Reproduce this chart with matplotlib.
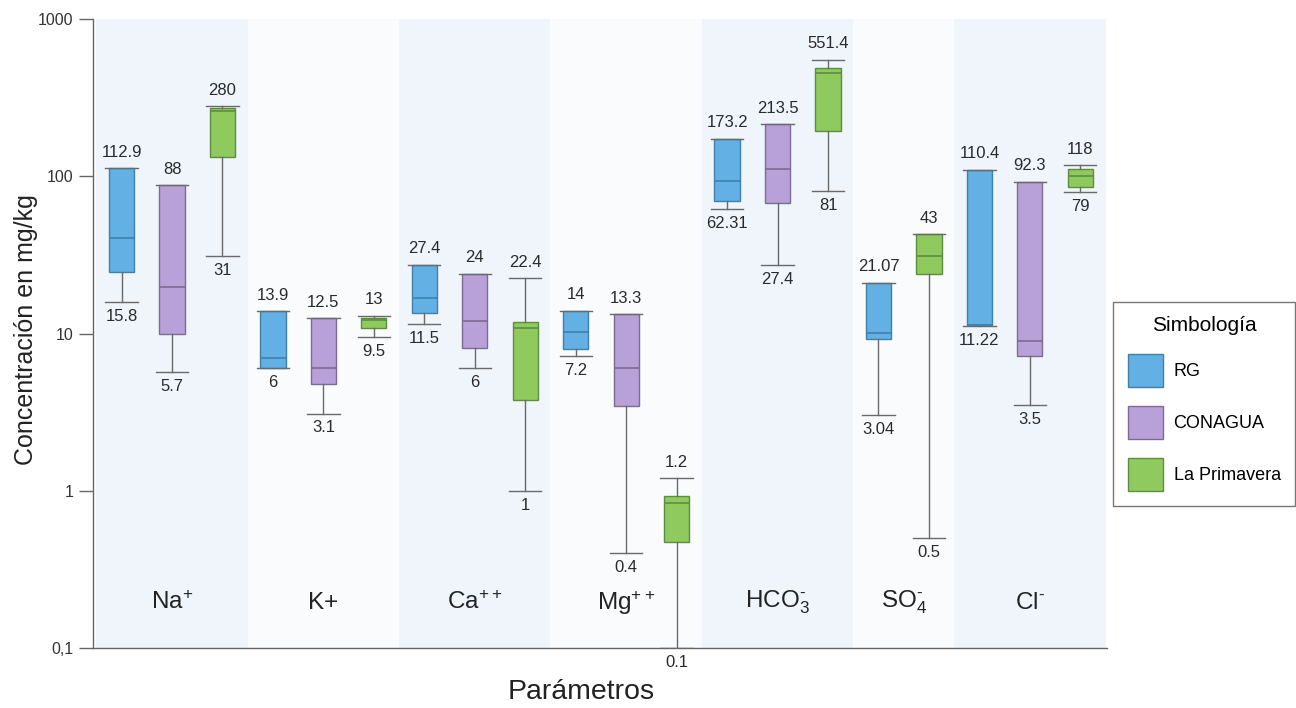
import numpy as np
import matplotlib
matplotlib.use("Agg")
import matplotlib.pyplot as plt
from matplotlib.patches import Patch
from matplotlib.ticker import FixedLocator, NullLocator

plt.rcParams['font.family'] = ['Liberation Sans', 'DejaVu Sans']
plt.rcParams['mathtext.fontset'] = 'custom'
plt.rcParams['mathtext.rm'] = 'Liberation Sans'
plt.rcParams['mathtext.default'] = 'regular'

# parametros (iones) en el eje x
params = ['Na$^{+}$', 'K+', 'Ca$^{++}$', 'Mg$^{++}$',
          r'HCO$_3^{\text{-}}$', r'SO$_4^{\text{-}}$', r'Cl$^{\text{-}}$']
sources = ['RG', 'CONAGUA', 'La Primavera']

# RG
rg_hi = [112.9, 13.9, 27.4, 14, 173.2, 21.07, 110.4]
rg_q3 = [112.9, 13.9, 27.4, 14, 173.2, 21.07, 110.4]
rg_med = [40.8, 7.0, 16.9, 10.3, 92.9, 10.1, 11.4]
rg_q1 = [24.8, 6.07, 13.6, 8.0, 69.3, 9.2, 11.3]
rg_lo = [15.8, 6, 11.5, 7.2, 62.31, 3.04, 11.22]

# CONAGUA (sin datos de SO4)
con_hi = [88, 12.5, 24, 13.3, 213.5, None, 92.3]
con_q3 = [88, 12.5, 24, 13.3, 213.5, None, 92.3]
con_med = [19.9, 6.07, 12.1, 6.07, 111, None, 8.9]
con_q1 = [10.0, 4.8, 8.1, 3.48, 67.7, None, 7.24]
con_lo = [5.7, 3.1, 6, 0.4, 27.4, None, 3.5]

# La Primavera
lp_hi = [280, 13, 22.4, 1.2, 551.4, 43, 118]
lp_q3 = [270, 12.6, 11.9, 0.92, 487, 43, 112]
lp_med = [262, 12.2, 10.9, 0.84, 453, 30.9, 101]
lp_q1 = [132, 10.9, 3.8, 0.47, 193, 23.8, 86]
lp_lo = [31, 9.5, 1, 0.1, 81, 0.5, 79]

series = {
    'RG': (rg_hi, rg_q3, rg_med, rg_q1, rg_lo),
    'CONAGUA': (con_hi, con_q3, con_med, con_q1, con_lo),
    'La Primavera': (lp_hi, lp_q3, lp_med, lp_q1, lp_lo),
}
fills = {'RG': '#62b0e4', 'CONAGUA': '#b8a0d8', 'La Primavera': '#8fca5e'}
edges = {'RG': '#3f80ad', 'CONAGUA': '#7c6c92', 'La Primavera': '#5e8d3f'}

fig = plt.figure(figsize=(12.96, 7.08), dpi=100)
ax = fig.add_axes([0.0718, 0.0847, 0.7824, 0.8884])
ax.set_yscale('log')

pos = 0
group_pos = []
for i in range(len(params)):
    gp = []
    for s in sources:
        hi, q3, med, q1, lo = (arr[i] for arr in series[s])
        if hi is None:
            continue
        st = dict(whishi=hi, q3=q3, med=med, q1=q1, whislo=lo, fliers=[])
        ax.bxp([st], positions=[pos], widths=0.5, capwidths=0.64, patch_artist=True,
               boxprops=dict(facecolor=fills[s], edgecolor=edges[s], linewidth=1.0),
               medianprops=dict(color=edges[s], linewidth=1.2),
               whiskerprops=dict(color='#6a6a6a', linewidth=1.0),
               capprops=dict(color='#6a6a6a', linewidth=1.0),
               manage_ticks=False, zorder=3)
        ax.annotate(f'{hi:g}', (pos, hi), xytext=(0, 6), textcoords='offset points',
                    ha='center', va='bottom', fontsize=12, color='#2a2a2a', zorder=4)
        ax.annotate(f'{lo:g}', (pos, lo), xytext=(0, -5), textcoords='offset points',
                    ha='center', va='top', fontsize=12, color='#2a2a2a',
                    annotation_clip=False, zorder=4)
        gp.append(pos)
        pos += 1
    group_pos.append(gp)

# bandas de fondo por grupo
for k, gp in enumerate(group_pos):
    c = '#f0f5fb' if k % 2 == 0 else '#f9fbfd'
    ax.axvspan(gp[0] - 0.5, gp[-1] + 0.5, color=c, zorder=0, lw=0)

tr = ax.get_xaxis_transform()
for name, gp in zip(params, group_pos):
    ax.text(np.mean(gp), 0.072, name, transform=tr, ha='center', va='center',
            fontsize=17.5, color='#222222')

ax.set_xlim(-0.565, 19.53)
ax.set_ylim(0.1, 1000)
ax.yaxis.set_major_locator(FixedLocator([0.1, 1, 10, 100, 1000]))
ax.yaxis.set_minor_locator(NullLocator())
ax.set_yticklabels(['0,1', '1', '10', '100', '1000'])
ax.xaxis.set_major_locator(NullLocator())
ax.tick_params(axis='y', length=10, width=1, color='#666666', labelsize=11.5,
               labelcolor='#333333', pad=4)
for sp in ['top', 'right']:
    ax.spines[sp].set_visible(False)
for sp in ['left', 'bottom']:
    ax.spines[sp].set_color('#666666')
    ax.spines[sp].set_linewidth(1.0)

ax.set_ylabel('Concentración en mg/kg', fontsize=18, color='#222222')
ax.yaxis.set_label_coords(-0.054, 0.506)
ax.set_xlabel('Parámetros', fontsize=20.5, color='#222222')
ax.xaxis.set_label_coords(0.481, -0.050)

handles = [Patch(facecolor=fills[s], edgecolor=edges[s], label=s) for s in sources]
leg = fig.legend(handles=handles, title='Simbología', loc='upper left',
                 bbox_to_anchor=(0.859, 0.574), borderaxespad=0,
                 fontsize=13, title_fontsize=15,
                 handlelength=1.94, handleheight=2.45, labelspacing=1.05,
                 handletextpad=0.6, borderpad=0.8, fancybox=False,
                 edgecolor='#777777', framealpha=1.0)
leg.get_frame().set_linewidth(1.0)

fig.savefig('out.png', dpi=100, facecolor='white')
